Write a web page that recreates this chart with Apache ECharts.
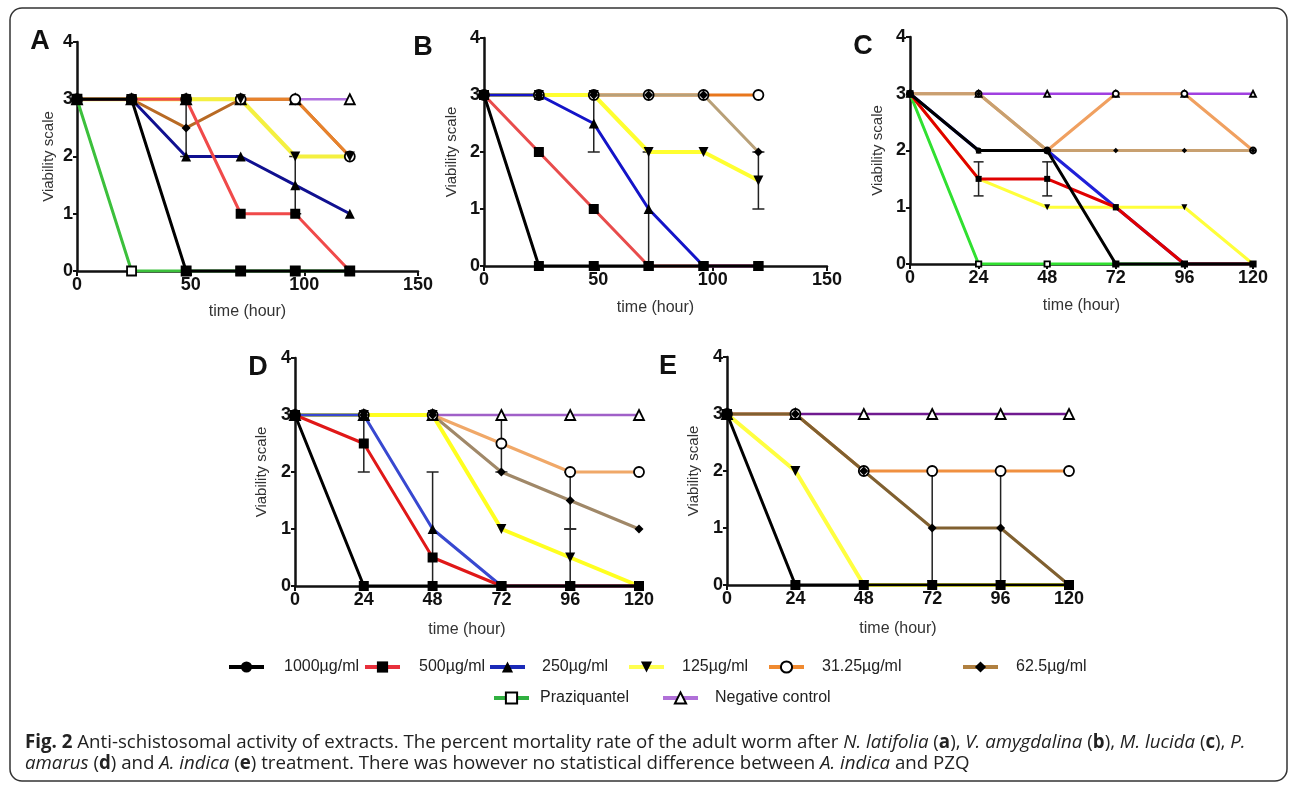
<!DOCTYPE html>
<html><head><meta charset="utf-8">
<script src="https://cdn.jsdelivr.net/npm/echarts@6/dist/echarts.min.js"></script>
<style>html,body{margin:0;padding:0;background:#fff}#c{width:1292px;height:785px}</style>
</head><body><div id="c"></div>
<script>
// ---------- data ----------
const hours = [0, 24, 48, 72, 96, 120];
const xTicksAB = [0, 50, 100, 150];
const xTicksCDE = [0, 24, 48, 72, 96, 120];
const yTicks = [0, 1, 2, 3, 4];

const N1000 = '1000µg/ml', N500 = '500µg/ml', N250 = '250µg/ml', N125 = '125µg/ml',
      N31 = '31.25µg/ml', N62 = '62.5µg/ml', NPZQ = 'Praziquantel', NNEG = 'Negative control';

// Panel A – N. latifolia
const A_1000 = [3, 3, 0, 0, 0, 0];
const A_500  = [3, 3, 3, 1, 1, 0];
const A_250  = [3, 3, 2, 2, 1.5, 1];
const A_125  = [3, 3, 3, 3, 2, 2];
const A_31   = [3, 3, 3, 3, 3, 2];
const A_62   = [3, 3, 2.5, 3, 3, 2];
const A_pzq  = [3, 0, 0, 0, 0, 0];
const A_neg  = [3, 3, 3, 3, 3, 3];
const A_err  = [[48, 2, 3], [96, 1, 2]];

// Panel B – V. amygdalina
const B_1000 = [3, 0, 0, 0, 0, 0];
const B_500  = [3, 2, 1, 0, 0, 0];
const B_250  = [3, 3, 2.5, 1, 0, 0];
const B_125  = [3, 3, 3, 2, 2, 1.5];
const B_31   = [3, 3, 3, 3, 3, 3];
const B_62   = [3, 3, 3, 3, 3, 2];
const B_err  = [[48, 2, 3], [72, 0, 2], [120, 1, 2]];

// Panel C – M. lucida
const C_1000 = [3, 2, 2, 0, 0, 0];
const C_500  = [3, 1.5, 1.5, 1, 0, 0];
const C_250  = [3, 2, 2, 1, 0, 0];
const C_125  = [3, 1.5, 1, 1, 1, 0];
const C_31   = [3, 3, 2, 3, 3, 2];
const C_62   = [3, 3, 2, 2, 2, 2];
const C_pzq  = [3, 0, 0, 0, 0, 0];
const C_neg  = [3, 3, 3, 3, 3, 3];
const C_err  = [[24, 1.2, 1.8], [48, 1.2, 1.8]];

// Panel D – P. amarus
const D_1000 = [3, 0, 0, 0, 0, 0];
const D_500  = [3, 2.5, 0.5, 0, 0, 0];
const D_250  = [3, 3, 1, 0, 0, 0];
const D_125  = [3, 3, 3, 1, 0.5, 0];
const D_31   = [3, 3, 3, 2.5, 2, 2];
const D_62   = [3, 3, 3, 2, 1.5, 1];
const D_neg  = [3, 3, 3, 3, 3, 3];
const D_err  = [[24, 2, 3], [48, 0, 2], [72, 2, 3], [96, 1, 2], [96, 0, 1]];

// Panel E – A. indica
const E_1000 = [3, 0, 0, 0, 0, 0];
const E_125  = [3, 2, 0, 0, 0, 0];
const E_31   = [3, 3, 2, 2, 2, 2];
const E_62   = [3, 3, 2, 1, 1, 0];
const E_neg  = [3, 3, 3, 3, 3, 3];
const E_err  = [[72, 0, 2], [96, 0, 2]];

// ---------- styling ----------
const FONT = "'Liberation Sans', Arial, sans-serif";
const CAP = "'Open Sans', sans-serif";
const grids = [
  {left: 910, top: 37, width: 343, height: 227},  // C (index 0)
  {left: 77,  top: 42, width: 341, height: 229},  // A
  {left: 484, top: 38, width: 343, height: 228},  // B
  {left: 295, top: 358, width: 344, height: 228}, // D
  {left: 727, top: 357, width: 342, height: 228}  // E
];
const SYM = [6, 10, 10, 10, 10];
const STY = {};
STY[N1000] = {symbol: 'rect'};
STY[N500]  = {symbol: 'rect'};
STY[N250]  = {symbol: 'triangle'};
STY[N125]  = {symbol: 'triangle', rot: 180};
STY[N31]   = {symbol: 'circle', open: true};
STY[N62]   = {symbol: 'diamond', scale: 0.9};
STY[NPZQ]  = {symbol: 'rect', open: true, scale: 0.9};
STY[NNEG]  = {symbol: 'triangle', open: true};

function ln(p, name, vals, color, width, symOverride) {
  const st = STY[name];
  return {
    type: 'line', name, xAxisIndex: p, yAxisIndex: p,
    data: hours.map((h, i) => [h, vals[i]]),
    symbol: symOverride || st.symbol,
    symbolSize: SYM[p] * (st.scale || 1),
    symbolRotate: st.rot || 0,
    showAllSymbol: true,
    lineStyle: {color, width},
    itemStyle: st.open ? {color: '#fff', borderColor: '#000', borderWidth: 1.8} : {color: '#000'},
    emphasis: {disabled: true}, silent: true, animation: false, z: 3
  };
}
function err(p, data, cap) {
  return {
    type: 'custom', name: 'err' + p, xAxisIndex: p, yAxisIndex: p, data, z: 2, silent: true,
    encode: {x: 0, y: [1, 2]},
    renderItem(params, api) {
      const x = api.value(0), lo = api.value(1), hi = api.value(2);
      const a = api.coord([x, lo]), b = api.coord([x, hi]);
      const s = {stroke: '#222', lineWidth: 1.5};
      return {type: 'group', children: [
        {type: 'line', shape: {x1: a[0], y1: a[1], x2: b[0], y2: b[1]}, style: s},
        {type: 'line', shape: {x1: a[0] - cap, y1: a[1], x2: a[0] + cap, y2: a[1]}, style: s},
        {type: 'line', shape: {x1: b[0] - cap, y1: b[1], x2: b[0] + cap, y2: b[1]}, style: s}
      ]};
    }
  };
}

const series = [
  // C (first, so legend uses its symbols)
  ln(0, NNEG, C_neg, '#a040e0', 2.5),
  ln(0, NPZQ, C_pzq, '#30e030', 3),
  ln(0, N31, C_31, '#f0a060', 3),
  ln(0, N62, C_62, '#c8a070', 3),
  ln(0, N125, C_125, '#ffff3a', 3),
  ln(0, N250, C_250, '#2020d8', 3),
  ln(0, N500, C_500, '#e00000', 3),
  ln(0, N1000, C_1000, '#000000', 3, 'circle'),
  err(0, C_err, 5),
  // A
  ln(1, NNEG, A_neg, '#b070e0', 2.5),
  ln(1, NPZQ, A_pzq, '#3cc03c', 3),
  ln(1, N62, A_62, '#b86a24', 3),
  ln(1, N31, A_31, '#e8822c', 3),
  ln(1, N125, A_125, '#f4f040', 4),
  ln(1, N250, A_250, '#101090', 3),
  ln(1, N500, A_500, '#f04a4a', 3),
  ln(1, N1000, A_1000, '#000000', 3),
  err(1, A_err, 6),
  // B
  ln(2, N31, B_31, '#e8761c', 3),
  ln(2, N62, B_62, '#b8a078', 3),
  ln(2, N125, B_125, '#ffff30', 4),
  ln(2, N250, B_250, '#1414c8', 3),
  ln(2, N500, B_500, '#e84c4c', 3),
  ln(2, N1000, B_1000, '#000000', 3),
  err(2, B_err, 6),
  // D
  ln(3, NNEG, D_neg, '#a060c8', 2.5),
  ln(3, N31, D_31, '#f0a868', 3),
  ln(3, N62, D_62, '#a08868', 3),
  ln(3, N125, D_125, '#ffff20', 4),
  ln(3, N250, D_250, '#3848d0', 3),
  ln(3, N500, D_500, '#e01818', 3),
  ln(3, N1000, D_1000, '#000000', 3),
  err(3, D_err, 6),
  // E
  ln(4, NNEG, E_neg, '#701a90', 2.5),
  ln(4, N31, E_31, '#f09040', 3),
  ln(4, N62, E_62, '#806030', 3),
  ln(4, N125, E_125, '#ffff40', 4),
  ln(4, N1000, E_1000, '#000000', 3),
  err(4, E_err, 6)
];

const xMax = [120, 150, 150, 120, 120];
const xInt = [24, 50, 50, 24, 24];
const xNameGap = [34, 33, 34, 36, 36];
const yNameGap = [25, 21, 25, 26, 26];

const xAxis = grids.map((g, i) => ({
  type: 'value', gridIndex: i, min: 0, max: xMax[i], interval: xInt[i],
  axisLine: {onZero: false, lineStyle: {color: '#111', width: 2.5}},
  axisTick: {length: 5, lineStyle: {color: '#111', width: 2}},
  axisLabel: {fontFamily: FONT, fontWeight: 'bold', fontSize: 18, color: '#111', margin: 5},
  splitLine: {show: false},
  name: 'time (hour)', nameLocation: 'middle', nameGap: xNameGap[i],
  nameTextStyle: {fontFamily: FONT, fontSize: 16, color: '#333'}
}));
const yAxis = grids.map((g, i) => ({
  type: 'value', gridIndex: i, min: 0, max: 4, interval: 1,
  axisLine: {onZero: false, lineStyle: {color: '#111', width: 2.5}},
  axisTick: {length: 4, lineStyle: {color: '#111', width: 2}},
  axisLabel: {fontFamily: FONT, fontWeight: 'bold', fontSize: 18, color: '#111', margin: 4},
  splitLine: {show: false},
  name: 'Viability scale', nameLocation: 'middle', nameRotate: 90, nameGap: yNameGap[i],
  nameTextStyle: {fontFamily: FONT, fontSize: 15, color: '#333'}
}));

const legendDefs = [
  {name: N1000, left: 227, top: 659, pad: 15, color: '#000000'},
  {name: N500,  left: 363, top: 659, pad: 14, color: '#e8303c'},
  {name: N250,  left: 488, top: 659, pad: 12, color: '#1a2ab8'},
  {name: N125,  left: 627, top: 659, pad: 13, color: '#ffff50'},
  {name: N31,   left: 767, top: 659, pad: 13, color: '#f08a30'},
  {name: N62,   left: 961, top: 659, pad: 13, color: '#b08040'},
  {name: NPZQ,  left: 492, top: 690, pad: 6,  color: '#30b040'},
  {name: NNEG,  left: 661, top: 690, pad: 12, color: '#b070d8'}
];
const legend = legendDefs.map(d => ({
  data: [{name: d.name, lineStyle: {color: d.color, width: 4}}],
  left: d.left, top: d.top, padding: 0, itemWidth: 35, itemHeight: 14,
  selectedMode: false,
  textStyle: {fontFamily: FONT, fontSize: 16, color: '#222', padding: [0, 0, 0, d.pad]}
}));

const letters = [['A', 40, 42], ['B', 423, 48], ['C', 863, 47], ['D', 258, 368], ['E', 668, 367]];
const CAPSIZE = 18.7;
const richBase = {fontFamily: CAP, fontSize: CAPSIZE, fill: '#222'};
const rich = {
  n: Object.assign({}, richBase),
  b: Object.assign({fontWeight: 'bold'}, richBase),
  i: Object.assign({fontStyle: 'italic'}, richBase)
};
const cap1 = '{b|Fig. 2}{n| Anti-schistosomal activity of extracts. The percent mortality rate of the adult worm after }{i|N. latifolia}{n| (}{b|a}{n|), }{i|V. amygdalina}{n| (}{b|b}{n|), }{i|M. lucida}{n| (}{b|c}{n|), }{i|P.}';
const cap2 = '{i|amarus}{n| (}{b|d}{n|) and }{i|A. indica}{n| (}{b|e}{n|) treatment. There was however no statistical difference between }{i|A. indica}{n| and PZQ}';

const graphic = [
  {type: 'rect', shape: {x: 10, y: 8, width: 1277, height: 773, r: 12},
   style: {fill: 'none', stroke: '#333', lineWidth: 1.5}, silent: true},
  ...letters.map(l => ({type: 'text', x: l[1], y: l[2], silent: true,
    style: {text: l[0], font: "bold 27px 'Liberation Sans', Arial", fill: '#111', align: 'center', verticalAlign: 'middle'}})),
  {type: 'text', x: 25, y: 743, silent: true,
   style: {text: cap1, rich, fontFamily: CAP, fontSize: CAPSIZE, fill: '#222', verticalAlign: 'middle'}},
  {type: 'text', x: 25, y: 764, silent: true,
   style: {text: cap2, rich, fontFamily: CAP, fontSize: CAPSIZE, fill: '#222', verticalAlign: 'middle'}}
];

const chart = echarts.init(document.getElementById('c'), null, {renderer: 'canvas'});
chart.setOption({
  animation: false,
  backgroundColor: '#fff',
  grid: grids.map(g => Object.assign({outerBoundsMode: 'none'}, g)),
  xAxis, yAxis, series, legend, graphic
});
</script></body></html>
